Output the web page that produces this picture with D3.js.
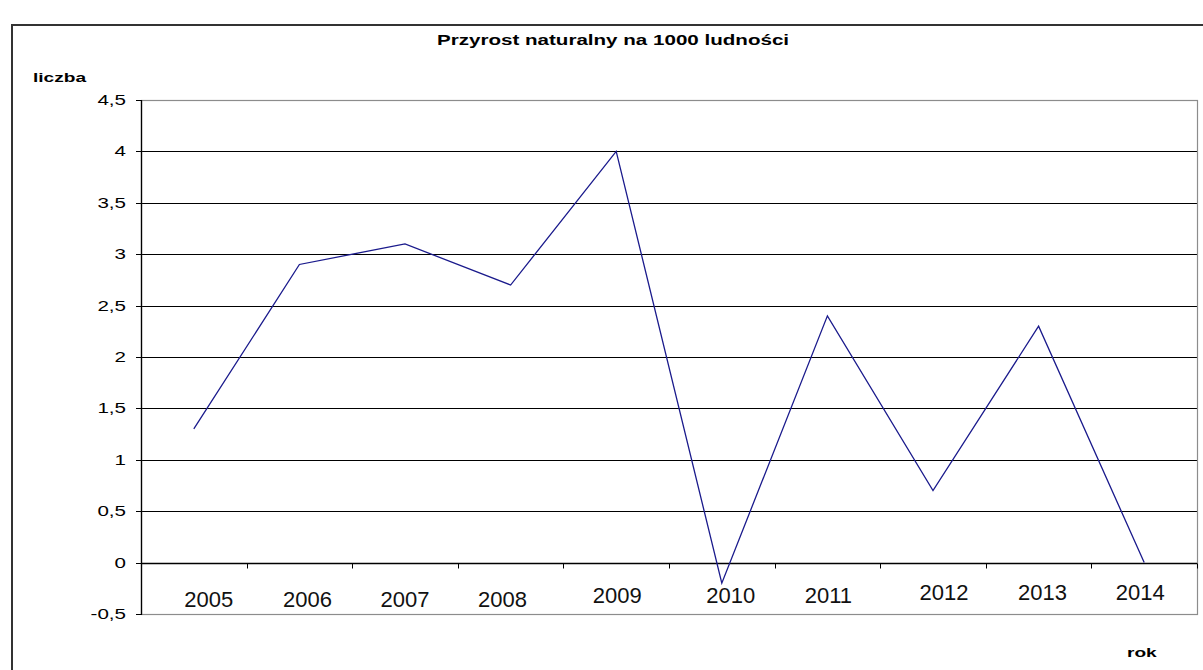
<!DOCTYPE html>
<html><head><meta charset="utf-8">
<script src="https://cdn.jsdelivr.net/npm/d3@7/dist/d3.min.js"></script>
<style>body{margin:0;background:#fff}svg{display:block}text{font-family:"Liberation Sans",Arial,sans-serif}</style>
</head><body>
<script>
const years = ["2005","2006","2007","2008","2009","2010","2011","2012","2013","2014"];
const values = [1.3, 2.9, 3.1, 2.7, 4.0, -0.2, 2.4, 0.7, 2.3, 0.0];
const yTicks = [-0.5, 0, 0.5, 1, 1.5, 2, 2.5, 3, 3.5, 4, 4.5];
const chartTitle = "Przyrost naturalny na 1000 ludności";
const yTitle = "liczba";
const xTitle = "rok";

(function draw() {
const W = 1203, H = 670;
const SX = 1.47; // horizontal stretch of text in the reference
// hand-placed category labels in the reference: nudge from band centre [dx, baseline]
const labelNudge = [[15,607],[8,607],[0,607],[-8,607],[1,603],[9,603],[1,603],[11,600],[4,600],[-4,600]];
const svg = d3.select("body").append("svg").attr("width", W).attr("height", H);

// outer chart border
svg.append("rect").attr("x", 12).attr("y", 25).attr("width", 1250).attr("height", 700)
  .attr("fill", "none").attr("stroke", "#333").attr("stroke-width", 2);

const pL = 141, pR = 1197, pT = 100, pB = 614;
const x = d3.scaleBand().domain(years).range([pL, pR]).padding(0);
const y = d3.scaleLinear().domain([-0.5, 4.5]).range([pB, pT]);
const fmt = d => String(d).replace(".", ",");

// gridlines
svg.append("g").selectAll("line").data(yTicks.filter(v => v > -0.5 && v < 4.5)).join("line")
  .attr("x1", pL).attr("x2", pR).attr("y1", d => Math.round(y(d)) + 0.5).attr("y2", d => Math.round(y(d)) + 0.5)
  .attr("stroke", "#000").attr("stroke-width", 1);

// plot area border (gray)
svg.append("rect").attr("x", pL + 0.5).attr("y", pT + 0.5).attr("width", pR - pL).attr("height", pB - pT)
  .attr("fill", "none").attr("stroke", "#8c8c8c").attr("stroke-width", 1.2);

// y axis line + ticks
svg.append("line").attr("x1", pL + 0.5).attr("x2", pL + 0.5).attr("y1", pT).attr("y2", pB + 1)
  .attr("stroke", "#000").attr("stroke-width", 1.3);
svg.append("g").selectAll("line").data(yTicks).join("line")
  .attr("x1", pL - 5).attr("x2", pL).attr("y1", d => Math.round(y(d)) + 0.5).attr("y2", d => Math.round(y(d)) + 0.5)
  .attr("stroke", "#000");
svg.append("g").selectAll("text").data(yTicks).join("text")
  .attr("transform", d => `translate(126,${y(d) + 5}) scale(${SX},1)`)
  .attr("text-anchor", "end").attr("font-size", 14).attr("fill", "#000").text(fmt);

// x axis at 0 with ticks between categories
const y0 = Math.round(y(0)) + 0.5;
svg.append("line").attr("x1", pL).attr("x2", pR).attr("y1", y0).attr("y2", y0)
  .attr("stroke", "#000").attr("stroke-width", 1.3);
svg.append("g").selectAll("line").data(years.slice(1)).join("line")
  .attr("x1", d => Math.round(x(d)) + 0.5).attr("x2", d => Math.round(x(d)) + 0.5)
  .attr("y1", y0).attr("y2", y0 + 5).attr("stroke", "#000");
svg.append("line").attr("x1", pR + 0.5).attr("x2", pR + 0.5).attr("y1", y0).attr("y2", y0 + 5).attr("stroke", "#000");
svg.append("g").selectAll("text").data(years).join("text")
  .attr("x", (d, i) => x(d) + x.bandwidth() / 2 + labelNudge[i][0]).attr("y", (d, i) => labelNudge[i][1])
  .attr("text-anchor", "middle").attr("font-size", 22).attr("fill", "#111").text(d => d);

// line
const line = d3.line().x((d, i) => x(years[i]) + x.bandwidth() / 2).y(d => y(d));
svg.append("path").datum(values).attr("d", line).attr("fill", "none")
  .attr("stroke", "#1a1a8c").attr("stroke-width", 1.3);

// titles
svg.append("text").attr("transform", `translate(613,45) scale(${SX},1)`).attr("text-anchor", "middle")
  .attr("font-size", 14).attr("font-weight", "bold").text(chartTitle);
svg.append("text").attr("transform", `translate(33,82) scale(${SX},1)`)
  .attr("font-size", 13).attr("font-weight", "bold").text(yTitle);
svg.append("text").attr("transform", `translate(1127,657) scale(${SX},1)`)
  .attr("font-size", 13).attr("font-weight", "bold").text(xTitle);
})();
</script>
</body></html>
